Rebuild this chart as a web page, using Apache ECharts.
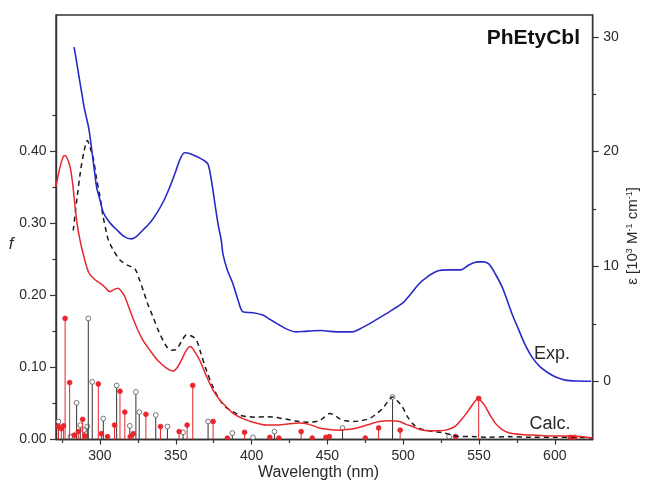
<!DOCTYPE html>
<html>
<head>
<meta charset="utf-8">
<script src="https://cdn.jsdelivr.net/npm/echarts@6/dist/echarts.min.js"></script>
<style>
  html, body { margin: 0; padding: 0; background: #fff; }
  #chart { width: 649px; height: 481px; }
</style>
</head>
<body>
<div id="chart"></div>
<script>
// Experimental absorption spectrum, epsilon in 10^3 M^-1 cm^-1 (right axis)
const expSpectrum = [
  [282.9,29.1],[284.5,27.9],[286.2,26.5],[288,25.1],[289.5,23.9],[291,23.0],[292.8,21.9],
  [294.9,19.8],[296.5,18.2],[297.8,16.9],[300,15.8],[302.2,14.7],[306,13.9],[311,13.2],
  [316,12.6],[320.8,12.4],[324,12.6],[328.5,13.2],[333,13.8],[337.3,14.6],[342,15.7],
  [346,16.9],[350,18.3],[353,19.4],[355.9,19.9],[360,19.8],[365,19.5],[369,19.2],
  [371.3,18.9],[373.5,17.5],[376,15.3],[378,13.6],[380,12.3],[381.1,11.1],[384,9.7],
  [387.7,8.5],[391,7.1],[394.3,6.05],[400.9,5.97],[407.4,5.77],[412,5.4],[418.4,4.9],
  [424,4.5],[429.4,4.3],[435,4.35],[440.3,4.4],[446,4.42],[451.3,4.35],[458,4.3],
  [466.6,4.3],[472,4.6],[477.6,5.0],[484,5.5],[490.8,6.05],[499.5,6.8],[505,7.6],
  [510.5,8.5],[516,9.1],[522.6,9.6],[530,9.7],[537.9,9.7],[543,10.1],[547,10.35],
  [550,10.4],[553,10.4],[556.6,10.2],[561,9.3],[565.3,8.2],[569,6.9],[572,5.8],
  [576.3,4.46],[580,3.3],[585,2.1],[590,1.3],[596,0.7],[601,0.35],[607,0.1],
  [615,0.02],[624,0]
];

// Broadened calculated spectrum (solid red), oscillator strength f
const calcSpectrum = [
  [271,0.351],[273,0.372],[275,0.388],[276.5,0.394],[278,0.392],[280.3,0.378],[282,0.355],
  [283.6,0.323],[285,0.298],[286.8,0.277],[289,0.257],[292.3,0.233],[296,0.223],[300,0.217],
  [303,0.212],[306.6,0.205],[309,0.208],[312,0.21],[314,0.206],[316.4,0.198],[320,0.178],
  [324.1,0.156],[328,0.139],[332.9,0.124],[338,0.110],[343.9,0.099],[348.2,0.095],
  [351,0.100],[353.7,0.110],[357,0.124],[359.6,0.129],[362.5,0.122],[365.8,0.110],
  [370,0.089],[374.5,0.069],[379,0.055],[383.3,0.0455],[388,0.036],[394.3,0.029],
  [401,0.024],[409.7,0.020],[418,0.020],[425,0.022],[431.6,0.023],[438,0.021],
  [444.7,0.016],[451,0.014],[457.9,0.013],[463,0.014],[468.9,0.0155],[476,0.020],
  [484.2,0.025],[491,0.026],[497.4,0.025],[502,0.021],[506.1,0.018],[511,0.014],
  [517.1,0.012],[523,0.012],[528,0.013],[534,0.018],[539,0.029],[543,0.040],
  [545.6,0.048],[549.5,0.057],[552,0.052],[554.4,0.045],[557.5,0.033],[561,0.022],
  [565,0.014],[569.7,0.0095],[578,0.007],[587.3,0.006],[598,0.005],[609,0.005],
  [617,0.004],[625,0.002]
];

// Second broadened calculated spectrum (dashed black)
const calcSpectrum2 = [
  [282.4,0.29],[284,0.32],[285,0.337],[287,0.37],[289.5,0.40],[291.7,0.415],[293.5,0.405],
  [295.6,0.39],[297.5,0.365],[300,0.337],[302,0.31],[304.4,0.286],[305.5,0.277],[309,0.262],
  [313.2,0.249],[318,0.242],[323,0.237],[326,0.222],[328.5,0.207],[331.5,0.188],[335,0.170],
  [339,0.149],[343.9,0.129],[347,0.124],[350.4,0.125],[353.5,0.135],[357,0.145],[360,0.144],
  [363.6,0.138],[366.5,0.120],[370.2,0.096],[374.5,0.073],[379,0.055],[383,0.045],
  [387.7,0.0386],[392,0.034],[396.5,0.032],[403,0.031],[409.7,0.0317],[415,0.031],
  [420.6,0.029],[426,0.027],[431.6,0.025],[438,0.024],[444.7,0.026],[448,0.031],
  [451.5,0.036],[454.5,0.034],[457.9,0.029],[462,0.026],[466.7,0.025],[472,0.026],
  [477.6,0.029],[482,0.035],[486.4,0.043],[490,0.053],[493,0.059],[496,0.054],
  [499.5,0.045],[503,0.031],[507.2,0.020],[511,0.015],[514.9,0.013],[520,0.011],
  [525.9,0.0095],[531,0.007],[537,0.004],[545,0.004],[555,0.003],[570,0.004],
  [585,0.003],[600,0.003],[612,0.003],[625,0.002]
];

// Individual transitions (wavelength, f): red filled and black open sticks
const sticksRed = [
  [272.6,0.018],[274.5,0.015],[276,0.019],[277,0.168],[280,0.079],[283,0.006],[285.7,0.011],
  [288.6,0.028],[290,0.005],[298.9,0.077],[301,0.008],[305,0.004],[309.6,0.020],[313.2,0.067],
  [316.4,0.038],[320,0.004],[322,0.008],[330.3,0.035],[339.9,0.018],[352.2,0.011],
  [357.5,0.020],[361.2,0.075],[374.6,0.025],[384,0.002],[395.4,0.010],[412,0.003],
  [418,0.002],[432.7,0.011],[440,0.002],[449,0.003],[451.3,0.004],[475,0.002],
  [483.8,0.016],[498,0.013],[534.5,0.004],[549.8,0.057],[610.3,0.003],[613,0.003]
];
const sticksBlack = [
  [272.6,0.025],[280.5,0.004],[284.6,0.051],[287,0.020],[289.5,0.013],[291.6,0.018],
  [292.3,0.168],[294.9,0.080],[302.2,0.029],[311,0.075],[319.7,0.019],[323.7,0.066],
  [325.9,0.038],[336.8,0.034],[344.5,0.018],[354.8,0.010],[371.3,0.025],[387.3,0.009],
  [400.9,0.003],[415.1,0.011],[460,0.016],[493,0.059],[530.3,0.004]
];

// Axis ticks and labels
const xMajor = [300, 350, 400, 450, 500, 550, 600];
const xMinor = [275, 325, 375, 425, 475, 525, 575];
const fMajor = [0, 0.1, 0.2, 0.3, 0.4];
const fMinor = [0.05, 0.15, 0.25, 0.35, 0.45];
const epsMajor = [0, 10, 20, 30];
const epsMinor = [5, 15, 25];

const X_MIN = 271, X_MAX = 625;
const F_MIN = 0, F_MAX = 0.589;
const E_MIN = -5.07, E_MAX = 31.9;

const AXIS_COLOR = '#333';
const TEXT_COLOR = '#2a2a2a';
const FONT = "'Liberation Sans', Arial, sans-serif";
const BLUE = '#2929c8';
const RED = '#e8262b';

const gridRect = { left: 56, right: 56.3, top: 15, bottom: 41.5 };

function stickSeries(data, lineColor, fill, stroke) {
  return {
    type: 'custom',
    xAxisIndex: 0,
    yAxisIndex: 0,
    clip: true,
    data: data,
    encode: { x: 0, y: 1 },
    renderItem: function (params, api) {
      const x = api.value(0), f = api.value(1);
      const p0 = api.coord([x, 0]);
      const p1 = api.coord([x, f]);
      return {
        type: 'group',
        children: [
          { type: 'line', shape: { x1: p0[0], y1: p0[1], x2: p1[0], y2: p1[1] },
            style: { stroke: lineColor, lineWidth: 1 } },
          { type: 'circle', shape: { cx: p1[0], cy: p1[1], r: 2.4 },
            style: { fill: fill, stroke: stroke, lineWidth: 0.8 } }
        ]
      };
    }
  };
}

function valueAxisBase(extra) {
  return Object.assign({
    type: 'value',
    splitLine: { show: false },
    axisLine: { show: true, onZero: false, lineStyle: { color: AXIS_COLOR, width: 1.4 } }
  }, extra);
}

const chart = echarts.init(document.getElementById('chart'), null, { renderer: 'canvas' });

chart.setOption({
  animation: false,
  backgroundColor: '#fff',
  grid: [
    Object.assign({ show: true, borderColor: AXIS_COLOR, borderWidth: 1.4, containLabel: false }, gridRect),
    Object.assign({ show: false, containLabel: false }, gridRect)
  ],
  xAxis: [
    valueAxisBase({
      gridIndex: 0, position: 'bottom', min: X_MIN, max: X_MAX,
      axisTick: { show: true, length: 5, customValues: xMajor, lineStyle: { color: AXIS_COLOR, width: 1.2 } },
      axisLabel: { customValues: xMajor, margin: 10, color: TEXT_COLOR, fontSize: 14, fontFamily: FONT }
    }),
    valueAxisBase({
      gridIndex: 1, position: 'bottom', min: X_MIN, max: X_MAX,
      axisLine: { show: false },
      axisTick: { show: true, length: 3.5, customValues: xMinor, lineStyle: { color: AXIS_COLOR, width: 1.2 } },
      axisLabel: { show: false }
    })
  ],
  yAxis: [
    valueAxisBase({
      gridIndex: 0, position: 'left', min: F_MIN, max: F_MAX,
      axisTick: { show: true, length: 6, customValues: fMajor, lineStyle: { color: AXIS_COLOR, width: 1.2 } },
      axisLabel: { customValues: fMajor, margin: 9.5, color: TEXT_COLOR, fontSize: 14, fontFamily: FONT,
                   formatter: v => v.toFixed(2) }
    }),
    valueAxisBase({
      gridIndex: 0, position: 'right', min: E_MIN, max: E_MAX,
      axisTick: { show: true, length: 6, customValues: epsMajor, lineStyle: { color: AXIS_COLOR, width: 1.2 } },
      axisLabel: { customValues: epsMajor, margin: 10.5, color: TEXT_COLOR, fontSize: 14, fontFamily: FONT }
    }),
    valueAxisBase({
      gridIndex: 1, position: 'left', min: F_MIN, max: F_MAX,
      axisLine: { show: false },
      axisTick: { show: true, length: 3.5, customValues: fMinor, lineStyle: { color: AXIS_COLOR, width: 1.2 } },
      axisLabel: { show: false }
    }),
    valueAxisBase({
      gridIndex: 1, position: 'right', min: E_MIN, max: E_MAX,
      axisLine: { show: false },
      axisTick: { show: true, length: 3.5, customValues: epsMinor, lineStyle: { color: AXIS_COLOR, width: 1.2 } },
      axisLabel: { show: false }
    })
  ],
  series: [
    stickSeries(sticksBlack, '#333', '#fff', '#555'),
    stickSeries(sticksRed, RED, RED, RED),
    {
      type: 'line', xAxisIndex: 0, yAxisIndex: 0, data: calcSpectrum2,
      showSymbol: false, smooth: 0.3, clip: true,
      lineStyle: { color: '#1a1a1a', width: 1.5, type: [5, 4] }
    },
    {
      type: 'line', xAxisIndex: 0, yAxisIndex: 0, data: calcSpectrum,
      showSymbol: false, smooth: 0.3, clip: true,
      lineStyle: { color: RED, width: 1.5 }
    },
    {
      type: 'line', xAxisIndex: 0, yAxisIndex: 1, data: expSpectrum,
      showSymbol: false, smooth: 0.3, clip: true,
      lineStyle: { color: BLUE, width: 1.6 }
    }
  ],
  graphic: [
    { type: 'text', x: 580, y: 38.5, style: { text: 'PhEtyCbl', fill: '#111',
      font: "bold 21px " + FONT, align: 'right', verticalAlign: 'middle' } },
    { type: 'text', x: 534, y: 354.5, style: { text: 'Exp.', fill: TEXT_COLOR,
      font: "18px " + FONT, align: 'left', verticalAlign: 'middle' } },
    { type: 'text', x: 529.5, y: 424.5, style: { text: 'Calc.', fill: TEXT_COLOR,
      font: "18px " + FONT, align: 'left', verticalAlign: 'middle' } },
    { type: 'text', x: 318.5, y: 472.5, style: { text: 'Wavelength (nm)', fill: TEXT_COLOR,
      font: "16px " + FONT, align: 'center', verticalAlign: 'middle' } },
    { type: 'text', x: 11, y: 244, style: { text: 'f', fill: TEXT_COLOR,
      font: "italic 17px " + FONT, align: 'center', verticalAlign: 'middle' } },
    { type: 'text', x: 633, y: 236, rotation: Math.PI / 2,
      style: {
        text: 'ε [10{sup|3} M{sup|-1} cm{sup|-1}]',
        fill: TEXT_COLOR, font: "15px " + FONT, align: 'center', verticalAlign: 'middle',
        rich: {
          sup: { fontSize: 9, fontFamily: FONT, fill: TEXT_COLOR, verticalAlign: 'top', lineHeight: 16 }
        }
      } }
  ]
});
</script>
</body>
</html>
